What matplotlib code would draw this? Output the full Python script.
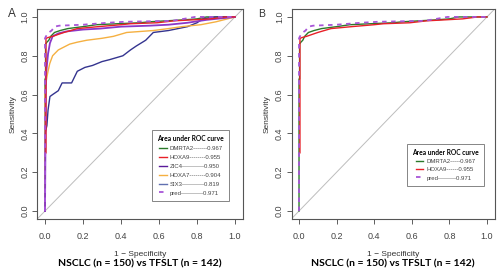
import matplotlib
matplotlib.use("Agg")
import matplotlib.pyplot as plt
from matplotlib.lines import Line2D

plt.rcParams['font.family'] = ['Liberation Sans', 'DejaVu Sans']

# ---------------- data (1 - specificity, sensitivity) ----------------
dmrta2_fpr = [0, 0, 0.003, 0.003, 0.01, 0.02, 0.03, 0.05, 0.08, 0.12, 0.2, 0.27, 0.38, 0.5, 0.55, 0.73, 0.8, 0.85, 1.0]
dmrta2_tpr = [0, 0.68, 0.68, 0.86, 0.87, 0.88, 0.9, 0.92, 0.93, 0.94, 0.95, 0.96, 0.965, 0.97, 0.975, 0.985, 0.99, 1.0, 1.0]

hoxa9_fpr = [0.005, 0.005, 0.02, 0.04, 0.07, 0.1, 0.17, 0.28, 0.4, 0.45, 0.59, 0.68, 0.87, 0.95, 1.0]
hoxa9_tpr = [0.30, 0.89, 0.895, 0.90, 0.91, 0.92, 0.94, 0.95, 0.96, 0.965, 0.97, 0.98, 0.99, 1.0, 1.0]

zic4_fpr = [0, 0.005, 0.01, 0.016, 0.026, 0.04, 0.07, 0.11, 0.2, 0.29, 0.4, 0.55, 0.65, 0.75, 0.85, 0.95, 1.0]
zic4_tpr = [0, 0.70, 0.75, 0.81, 0.865, 0.90, 0.915, 0.925, 0.935, 0.94, 0.95, 0.955, 0.96, 0.97, 0.985, 0.995, 1.0]

hoxa7_fpr = [0, 0, 0.005, 0.01, 0.016, 0.025, 0.04, 0.07, 0.1, 0.13, 0.17, 0.22, 0.3, 0.36, 0.43, 0.5, 0.57, 0.65, 0.72, 0.82, 0.9, 1.0]
hoxa7_tpr = [0, 0.62, 0.66, 0.69, 0.72, 0.76, 0.80, 0.83, 0.845, 0.86, 0.87, 0.88, 0.89, 0.90, 0.92, 0.925, 0.93, 0.94, 0.95, 0.96, 0.975, 1.0]

six3_fpr = [0, 0, 0.01, 0.016, 0.026, 0.04, 0.07, 0.09, 0.14, 0.17, 0.21, 0.25, 0.3, 0.34, 0.41, 0.45, 0.48, 0.53, 0.57, 0.65, 0.75, 0.80, 0.83, 0.9, 1.0]
six3_tpr = [0, 0.40, 0.44, 0.52, 0.59, 0.60, 0.62, 0.66, 0.66, 0.72, 0.74, 0.75, 0.77, 0.78, 0.80, 0.83, 0.85, 0.88, 0.92, 0.93, 0.95, 0.97, 0.99, 1.0, 1.0]

pred_fpr = [0, 0, 0.005, 0.02, 0.035, 0.05, 0.075, 0.2, 0.33, 0.42, 0.67, 0.79, 1.0]
pred_tpr = [0, 0.89, 0.90, 0.92, 0.93, 0.95, 0.955, 0.96, 0.97, 0.975, 0.98, 1.0, 1.0]

labels_a = ["DMRTA2-------0.967", "HOXA9--------0.955", "ZIC4-----------0.950",
            "HOXA7--------0.904", "SIX3-----------0.819", "pred-----------0.971"]
labels_b = ["DMRTA2-----0.967", "HOXA9------0.955", "pred---------0.971"]
legend_title = "Area under ROC curve"
panel_title = "NSCLC (n = 150) vs TFSLT (n = 142)"
ticks = [0.0, 0.2, 0.4, 0.6, 0.8, 1.0]

C_DMRTA2 = '#2a7a2a'
C_HOXA9 = '#e82028'
C_ZIC4 = '#8a38c8'
C_HOXA7 = '#f5b041'
C_SIX3 = '#34348f'
C_PRED = '#a855d8'

fig = plt.figure(figsize=(5.0, 2.74), dpi=100)
axA = fig.add_axes([0.0748, 0.2015, 0.4104, 0.765])
axB = fig.add_axes([0.583, 0.2015, 0.406, 0.765])


def style_axes(ax):
    ax.set_xlim(-0.04, 1.04)
    ax.set_ylim(-0.04, 1.04)
    ax.set_xticks(ticks)
    ax.set_yticks(ticks)
    ax.set_xticklabels([f"{t:.1f}" for t in ticks])
    ax.set_yticklabels([f"{t:.1f}" for t in ticks], rotation=90, va='center')
    ax.tick_params(direction='out', length=3.5, width=0.6, labelsize=6.5,
                   colors='#444444', pad=2)
    ax.tick_params(axis='x', pad=6)
    for s in ax.spines.values():
        s.set_color('#555555')
        s.set_linewidth(0.8)
    ax.plot([-0.04, 1.04], [-0.04, 1.04], color='#bdbdbd', lw=0.7, zorder=1)
    ax.set_xlabel("1 − Specificity", fontsize=6, color='#333333', labelpad=7)
    ax.set_ylabel("Sensitivity", fontsize=6, color='#333333', labelpad=3)


style_axes(axA)
style_axes(axB)

lw = 1.0
# panel A
hA = []
hA += axA.plot(dmrta2_fpr, dmrta2_tpr, color=C_DMRTA2, lw=lw)
hA += axA.plot(six3_fpr, six3_tpr, color=C_SIX3, lw=lw)
hA += axA.plot(hoxa7_fpr, hoxa7_tpr, color=C_HOXA7, lw=lw)
hA += axA.plot(zic4_fpr, zic4_tpr, color=C_ZIC4, lw=1.3)
hA += axA.plot(hoxa9_fpr, hoxa9_tpr, color=C_HOXA9, lw=lw)
hA += axA.plot(pred_fpr, pred_tpr, color=C_PRED, lw=1.3, linestyle=(0, (2.5, 2.5)))
handlesA = [hA[0], hA[4], Line2D([], [], color='#5a1a9a', lw=lw), hA[2],
            Line2D([], [], color='#6070b0', lw=lw), hA[5]]

# panel B
hB = []
hB += axB.plot(dmrta2_fpr, dmrta2_tpr, color=C_DMRTA2, lw=lw)
hB += axB.plot(hoxa9_fpr, hoxa9_tpr, color=C_HOXA9, lw=lw)
hB += axB.plot(pred_fpr, pred_tpr, color=C_PRED, lw=1.3, linestyle=(0, (2.5, 2.5)))


def add_legend(ax, handles, labels, anchor, spacing):
    leg = ax.legend(handles, labels, title=legend_title, loc='upper left',
                    bbox_to_anchor=anchor, bbox_transform=ax.transData,
                    fontsize=4.3, title_fontsize=4.8, frameon=True, fancybox=False,
                    edgecolor='#666666', handlelength=1.3, handletextpad=0.5,
                    labelspacing=spacing, borderpad=0.9, borderaxespad=0)
    leg.get_frame().set_linewidth(0.7)
    leg.get_title().set_fontweight('bold')
    leg.get_title().set_family(['Lato', 'DejaVu Sans'])
    for t in leg.get_texts():
        t.set_color('#444444')
    return leg


add_legend(axA, handlesA, labels_a, (0.563, 0.418), 0.62)
add_legend(axB, hB, labels_b, (0.574, 0.347), 0.5)

fig.text(0.016, 0.948, "A", fontsize=8.5, color='#333333', va='center')
fig.text(0.516, 0.948, "B", fontsize=7.5, color='#333333', va='center')

fig.text(0.28, 0.038, panel_title, fontsize=7.5, fontweight='bold',
         family=['Lato', 'DejaVu Sans'], ha='center', va='center')
fig.text(0.786, 0.038, panel_title, fontsize=7.5, fontweight='bold',
         family=['Lato', 'DejaVu Sans'], ha='center', va='center')

fig.savefig("out.png", dpi=100)
